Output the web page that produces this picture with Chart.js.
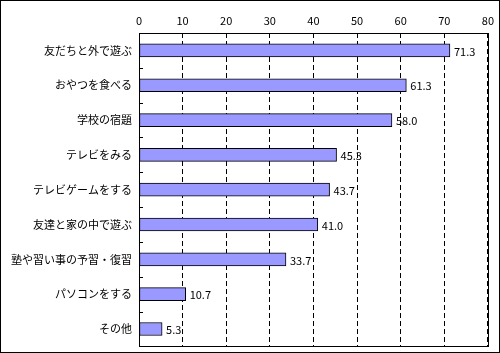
<!DOCTYPE html>
<html>
<head>
<meta charset="utf-8">
<script src="https://cdn.jsdelivr.net/npm/chart.js@4"></script>
<style>
  body { margin: 0; background: #fff; }
  #wrap { width: 500px; height: 353px; }
</style>
</head>
<body>
<div id="wrap"><canvas id="chart" width="500" height="353"></canvas></div>
<script>
// categories / values
const categories = [
    '友だちと外で遊ぶ',
    'おやつを食べる',
    '学校の宿題',
    'テレビをみる',
    'テレビゲームをする',
    '友達と家の中で遊ぶ',
    '塾や習い事の予習・復習',
    'パソコンをする',
    'その他'
];
const values = [71.3, 61.3, 58.0, 45.3, 43.7, 41.0, 33.7, 10.7, 5.3];
const axisMin = 0;
const axisMax = 80;
const axisStep = 10;

const FONT = "'Noto Sans CJK JP', 'Liberation Sans', sans-serif";

/**
 * Draws frame, category ticks, value labels.
 */
const decorations = {
    id: 'decorations',
    afterDatasetsDraw: (chart) => {
        const ctx = chart.ctx;
        const area = chart.chartArea;
        const yScale = chart.scales.y;

        ctx.save();
        ctx.strokeStyle = '#000';
        ctx.lineWidth = 1;
        ctx.setLineDash([]);

        // plot frame
        ctx.strokeRect(Math.round(area.left) + 0.5, Math.round(area.top) + 0.5,
            Math.round(area.right - area.left), Math.round(area.bottom - area.top));

        // category boundary ticks
        const band = (yScale.bottom - yScale.top) / categories.length;
        for (let i = 1; i < categories.length; i++) {
            let y = Math.round(yScale.top + band * i) + 0.5;
            ctx.beginPath();
            ctx.moveTo(area.left, y);
            ctx.lineTo(area.left + 4, y);
            ctx.stroke();
        }

        // value labels
        ctx.fillStyle = '#000';
        ctx.font = '11px ' + FONT;
        ctx.textAlign = 'left';
        ctx.textBaseline = 'middle';
        chart.getDatasetMeta(0).data.forEach((bar, i) => {
            ctx.fillText(values[i].toFixed(1), bar.x + 4, bar.y + 1);
        });

        // outer border
        ctx.strokeRect(0.5, 0.5, chart.width - 1, chart.height - 1);
        ctx.restore();
    }
};

new Chart(document.getElementById('chart'), {
    type: 'bar',
    data: {
        labels: categories,
        datasets: [{
            data: values,
            backgroundColor: '#9999ff',
            borderColor: '#000',
            borderWidth: 1,
            borderSkipped: false,
            barThickness: 13
        }]
    },
    options: {
        indexAxis: 'y',
        responsive: false,
        animation: false,
        layout: { padding: { top: 0, left: 0, right: 12, bottom: 4 } },
        plugins: {
            legend: { display: false },
            tooltip: { enabled: false }
        },
        scales: {
            x: {
                position: 'top',
                min: axisMin,
                max: axisMax,
                ticks: {
                    stepSize: axisStep,
                    color: '#000',
                    font: { size: 11, family: FONT },
                    padding: 6
                },
                grid: {
                    color: '#000',
                    drawTicks: false,
                    tickLength: 0
                },
                border: { display: false, dash: [5, 3] },
                afterFit: (scale) => { scale.height = 33; }
            },
            y: {
                ticks: {
                    color: '#000',
                    font: { size: 11, family: FONT },
                    padding: 0
                },
                grid: { display: false, tickLength: 7 },
                border: { display: false },
                afterFit: (scale) => { scale.width = 139; }
            }
        }
    },
    plugins: [decorations]
});
</script>
</body>
</html>
